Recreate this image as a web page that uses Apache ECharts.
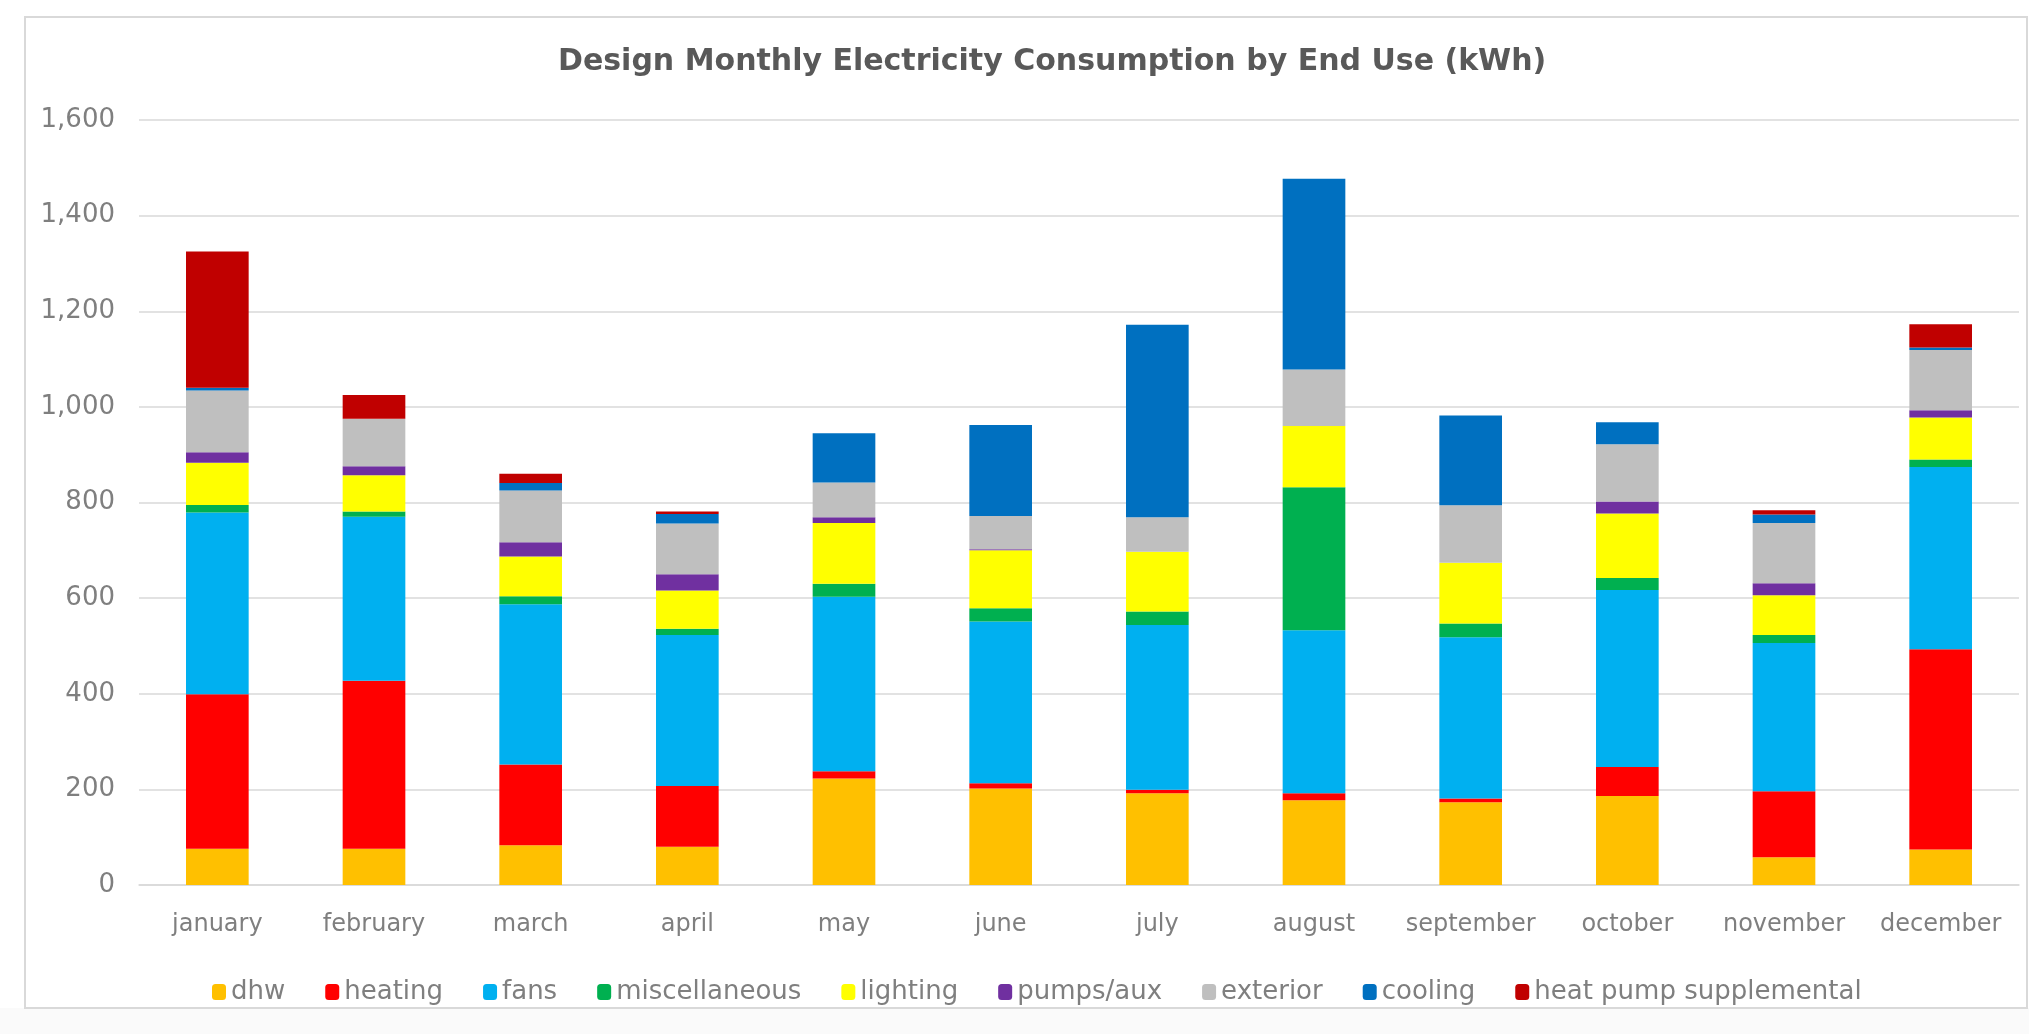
<!DOCTYPE html>
<html><head><meta charset="utf-8">
<script src="https://cdn.jsdelivr.net/npm/echarts@6.0.0/dist/echarts.min.js"></script>
<style>html,body{margin:0;padding:0;background:#fff}#c{width:2029px;height:1034px}</style>
</head><body><div id="c"></div>
<script>
const months = ['january','february','march','april','may','june','july','august','september','october','november','december'];
const yTicks = [0,200,400,600,800,1000,1200,1400,1600];
const dhw          = [76, 76, 83, 80, 223, 202, 192, 177, 173, 186, 58, 74];
const heating      = [323, 351, 169, 127, 15, 11, 7, 15, 8, 61, 138, 419];
const fans         = [380, 343, 335, 316, 365, 338, 345, 341, 337, 370, 310, 381];
const miscellaneous= [16, 11, 17, 13, 27, 28, 28, 299, 29, 25, 17, 16];
const lighting     = [88, 76, 83, 80, 127, 121, 125, 128, 127, 135, 83, 88];
const pumps        = [22, 19, 30, 34, 12, 2, 0, 0, 0, 25, 25, 15];
const exterior     = [129, 99, 108, 106, 73, 70, 72, 118, 120, 120, 126, 126];
const cooling      = [6, 0, 16, 20, 103, 190, 403, 399, 188, 46, 18, 5];
const hpSupp       = [285, 50, 19, 5, 0, 0, 0, 0, 0, 0, 9, 49];

const seriesNames = ['dhw','heating','fans','miscellaneous','lighting','pumps/aux','exterior','cooling','heat pump supplemental'];
const seriesData = [dhw, heating, fans, miscellaneous, lighting, pumps, exterior, cooling, hpSupp];
const colors = ['#FFC000','#FF0000','#00B0F0','#00B050','#FFFF00','#7030A0','#BFBFBF','#0070C0','#C00000'];

const font = 'DejaVu Sans';
const txt = '#7F7F7F';
const chart = echarts.init(document.getElementById('c'));
chart.setOption({
  animation: false,
  backgroundColor: '#ffffff',
  color: colors,
  title: {
    text: 'Design Monthly Electricity Consumption by End Use (kWh)',
    left: 553, top: 42,
    textStyle: {fontFamily: font, fontSize: 30, fontWeight: 'bold', color: '#595959'}
  },
  graphic: [{
    type: 'rect', silent: true, z: -10,
    shape: {x: 0, y: 1008, width: 2029, height: 26},
    style: {fill: '#FAFAFA'}
  }, {
    type: 'rect', silent: true, z: -5,
    shape: {x: 25, y: 17, width: 2002, height: 991},
    style: {fill: '#ffffff', stroke: '#D9D9D9', lineWidth: 2}
  }],
  legend: {
    data: seriesNames,
    bottom: 24, left: 207,
    itemWidth: 14, itemHeight: 16, itemGap: 40,
    icon: 'roundRect',
    textStyle: {fontFamily: font, fontSize: 26, color: txt}
  },
  grid: {left: 139, right: 10, top: 120, bottom: 149, containLabel: false},
  xAxis: {
    type: 'category', data: months,
    axisLine: {lineStyle: {color: '#D9D9D9', width: 1.5}},
    axisTick: {show: false},
    axisLabel: {fontFamily: font, fontSize: 24, color: txt, margin: 28, interval: 0, hideOverlap: false}
  },
  yAxis: {
    type: 'value', min: yTicks[0], max: yTicks[yTicks.length-1], interval: 200,
    axisLine: {show: false}, axisTick: {show: false},
    splitLine: {lineStyle: {color: '#D9D9D9', width: 1.5}},
    axisLabel: {fontFamily: font, fontSize: 26, color: txt, margin: 24,
      formatter: v => v.toLocaleString('en-US')}
  },
  series: seriesNames.map((n, i) => ({
    name: n, type: 'bar', stack: 'total', barWidth: '40%',
    itemStyle: {color: colors[i]},
    data: seriesData[i]
  }))
});
</script></body></html>
